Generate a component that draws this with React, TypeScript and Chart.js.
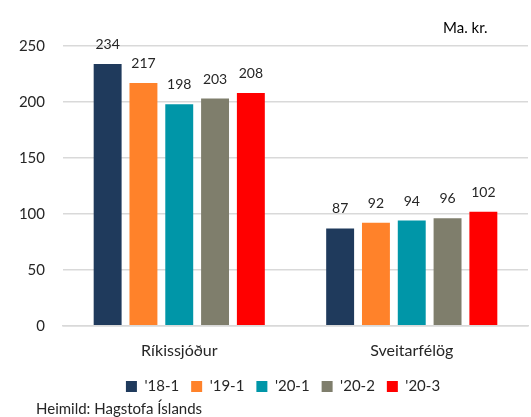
import React, { useEffect, useRef } from "react";
import { Chart, registerables } from "chart.js";

Chart.register(...registerables);

const categories = ["Ríkissjóður", "Sveitarfélög"];
const seriesLabels = ["'18-1", "'19-1", "'20-1", "'20-2", "'20-3"];
const seriesColors = ["#1F3A5C", "#FF822A", "#0096A8", "#7F7E6C", "#FF0000"];
const s18_1 = [234, 87];
const s19_1 = [217, 92];
const s20_1 = [198, 94];
const s20_2 = [203, 96];
const s20_3 = [208, 102];
const seriesValues = [s18_1, s19_1, s20_1, s20_2, s20_3];
const yTicks = [0, 50, 100, 150, 200, 250];
const unitLabel = "Ma. kr.";
const sourceLabel = "Heimild: Hagstofa Íslands";

const FONT = "Lato, 'Open Sans', sans-serif";

export default function App() {
  const ref = useRef<HTMLCanvasElement | null>(null);
  useEffect(() => {
    if (!ref.current) return;
    const labelPlugin = {
      id: "valueLabels",
      afterLayout(chart: any) {
        const lg = chart.legend;
        if (lg) {
          lg.left += 38;
        }
      },
      afterDatasetsDraw(chart: any) {
        const ctx = chart.ctx;
        ctx.save();
        ctx.fillStyle = "#262626";
        ctx.font = `14px ${FONT}`;
        ctx.textAlign = "center";
        ctx.textBaseline = "alphabetic";
        chart.data.datasets.forEach((ds: any, i: number) => {
          const meta = chart.getDatasetMeta(i);
          meta.data.forEach((bar: any, j: number) => {
            ctx.fillText(String(ds.data[j]), bar.x, bar.y - 15);
          });
        });
        ctx.font = `15px ${FONT}`;
        ctx.textAlign = "left";
        ctx.fillStyle = "#000000";
        ctx.fillText(unitLabel, 443, 33);
        ctx.fillStyle = "#262626";
        ctx.fillText(sourceLabel, 36, 414);
        ctx.restore();
      },
    };
    const chart = new Chart(ref.current, {
      type: "bar",
      data: {
        labels: categories,
        datasets: seriesLabels.map((l, i) => ({
          label: l,
          data: seriesValues[i],
          backgroundColor: seriesColors[i],
          borderWidth: 0,
          barPercentage: 0.78,
          categoryPercentage: 0.77,
        })),
      },
      options: {
        animation: false,
        responsive: false,
        maintainAspectRatio: false,
        layout: { padding: { top: 46, right: 3, left: 0, bottom: 13 } },
        plugins: {
          legend: {
            position: "bottom",
            labels: {
              boxWidth: 11,
              boxHeight: 11,
              padding: 12,
              color: "#262626",
              font: { family: FONT, size: 15 },
            },
          },
          tooltip: { enabled: false },
        },
        scales: {
          x: {
            grid: { display: false },
            border: { display: true, color: "#D9D9D9", width: 1.5 },
            ticks: { color: "#262626", font: { family: FONT, size: 16 }, padding: 7 },
          },
          y: {
            min: 0,
            max: 250,
            afterBuildTicks: (axis: any) => {
              axis.ticks = yTicks.map((v) => ({ value: v }));
            },
            afterFit: (axis: any) => {
              axis.width = 63;
            },
            grid: { color: "#D9D9D9", lineWidth: 1.5, drawTicks: false },
            border: { display: false },
            ticks: { color: "#262626", font: { family: FONT, size: 15 }, padding: 18 },
          },
        },
      },
      plugins: [labelPlugin],
    });
    return () => chart.destroy();
  }, []);
  return (
    <div style={{ position: "fixed", left: 0, top: 0, width: 531, height: 417, background: "#fff" }}>
      <canvas ref={ref} width={531} height={417} style={{ width: 531, height: 417 }} />
    </div>
  );
}
